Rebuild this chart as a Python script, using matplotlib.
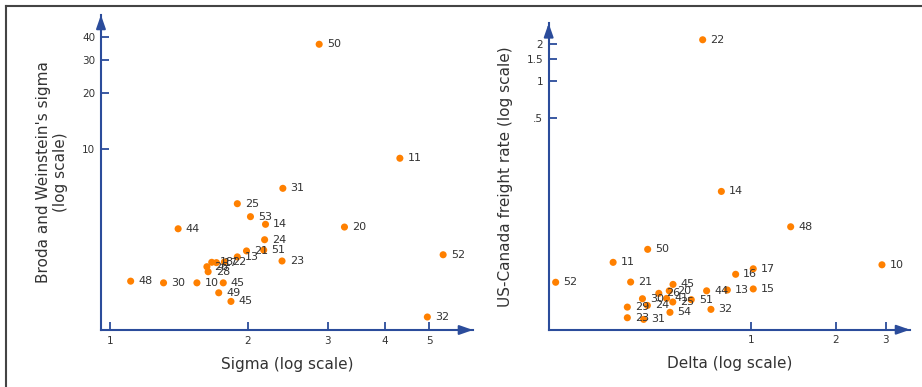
import matplotlib
matplotlib.use("Agg")
import matplotlib.pyplot as plt
from matplotlib.lines import Line2D

# ---- Left panel data ----
left_labels = ["50", "11", "31", "25", "53", "14", "44", "20", "24", "21", "51", "13", "23", "52",
               "18", "17", "22", "26", "28", "48", "30", "10", "45", "49", "45", "32"]
left_sigma = [2.87, 4.31, 2.39, 1.90, 2.03, 2.19, 1.41, 3.26, 2.18, 1.99, 2.17, 1.90, 2.38, 5.36,
              1.67, 1.71, 1.78, 1.63, 1.64, 1.11, 1.31, 1.55, 1.77, 1.73, 1.84, 4.95]
left_bw = [36.4, 8.88, 6.12, 5.06, 4.31, 3.92, 3.71, 3.79, 3.24, 2.82, 2.85, 2.62, 2.49, 2.69,
           2.45, 2.44, 2.46, 2.32, 2.18, 1.94, 1.90, 1.90, 1.90, 1.68, 1.51, 1.245]

# ---- Right panel data ----
right_labels = ["22", "14", "48", "50", "11", "10", "17", "16", "52", "21", "45", "15", "44", "13",
                "30", "26", "20", "41", "25", "51", "29", "24", "54", "23", "31", "32"]
right_delta = [0.677, 0.788, 1.384, 0.433, 0.327, 2.906, 1.021, 0.885, 0.205, 0.377, 0.532, 1.021,
               0.699, 0.827, 0.415, 0.474, 0.516, 0.505, 0.531, 0.617, 0.367, 0.432, 0.519, 0.367,
               0.419, 0.724]
right_freight = [2.154, 0.126, 0.065, 0.0426, 0.0334, 0.0319, 0.0296, 0.0267, 0.0230, 0.0231, 0.0221,
                 0.0203, 0.0196, 0.0199, 0.0169, 0.0187, 0.0196, 0.0170, 0.0159, 0.0166, 0.01445,
                 0.0149, 0.0131, 0.01184, 0.01148, 0.01385]

left_xticks = [1, 2, 3, 4, 5]
left_xticklabels = ["1", "2", "3", "4", "5"]
left_yticks = [10, 20, 30, 40]
left_yticklabels = ["10", "20", "30", "40"]
right_xticks = [1, 2, 3]
right_xticklabels = ["1", "2", "3"]
right_yticks = [0.5, 1, 1.5, 2]
right_yticklabels = [".5", "1", "1.5", "2"]

BLUE = "#2b4c9b"
ORANGE = "#ff8000"
TEXT = "#333333"

plt.rcParams['font.family'] = ['DejaVu Sans']

fig = plt.figure(figsize=(9.22, 3.87), dpi=100)
axL = fig.add_axes([0.1095, 0.1473, 0.4035, 0.814])
axR = fig.add_axes([0.5951, 0.148, 0.3919, 0.7917])


def style(ax, xlim, ylim, xt, xtl, yt, ytl, xlabel, ylabel):
    ax.set_xscale("log")
    ax.set_yscale("log")
    ax.set_xlim(*xlim)
    ax.set_ylim(*ylim)
    ax.xaxis.set_minor_locator(matplotlib.ticker.NullLocator())
    ax.yaxis.set_minor_locator(matplotlib.ticker.NullLocator())
    ax.set_xticks(xt)
    ax.set_xticklabels(xtl)
    ax.set_yticks(yt)
    ax.set_yticklabels(ytl)
    for s in ["top", "right"]:
        ax.spines[s].set_visible(False)
    for s in ["left", "bottom"]:
        ax.spines[s].set_color(BLUE)
        ax.spines[s].set_linewidth(1.5)
    ax.tick_params(axis="both", direction="in", length=6, width=1.3, color=BLUE,
                   labelsize=7.5, labelcolor=TEXT, pad=4)
    ax.set_xlabel(xlabel, fontsize=11, color=TEXT, labelpad=8)
    ax.set_ylabel(ylabel, fontsize=11, color=TEXT, labelpad=10, linespacing=1.2)
    ax.patch.set_alpha(0)
    # arrowheads
    arrow = dict(arrowstyle="-|>,head_length=0.8,head_width=0.28",
                 color=BLUE, lw=1.5, mutation_scale=10, shrinkA=0, shrinkB=0)
    ax.annotate("", xy=(1.0, 0), xytext=(0.96, 0), xycoords="axes fraction",
                arrowprops=arrow, annotation_clip=False)
    ax.annotate("", xy=(0, 1.0), xytext=(0, 0.96), xycoords="axes fraction",
                arrowprops=arrow, annotation_clip=False)


style(axL, (0.9557, 6.23), (1.06, 52.3), left_xticks, left_xticklabels, left_yticks,
      left_yticklabels, "Sigma (log scale)", "Broda and Weinstein's sigma\n(log scale)")
style(axR, (0.1937, 3.65), (0.00946, 2.93), right_xticks, right_xticklabels, right_yticks,
      right_yticklabels, "Delta (log scale)", "US-Canada freight rate (log scale)")

for ax, xs, ys, labs in [(axL, left_sigma, left_bw, left_labels),
                         (axR, right_delta, right_freight, right_labels)]:
    ax.scatter(xs, ys, s=26, color=ORANGE, edgecolors="none", zorder=3, clip_on=False)
    for x, y, t in zip(xs, ys, labs):
        ax.annotate(t, (x, y), xytext=(5.5, 0), textcoords="offset points",
                    va="center", ha="left", fontsize=8, color=TEXT, annotation_clip=False)

# partial frame (top and left lines)
fig.add_artist(Line2D([6 / 922, 1.0], [1 - 6 / 387, 1 - 6 / 387], color="#444444", lw=1.5))
fig.add_artist(Line2D([6 / 922, 6 / 922], [0.0, 1 - 6 / 387], color="#444444", lw=1.5))

fig.savefig("out.png", dpi=100)
